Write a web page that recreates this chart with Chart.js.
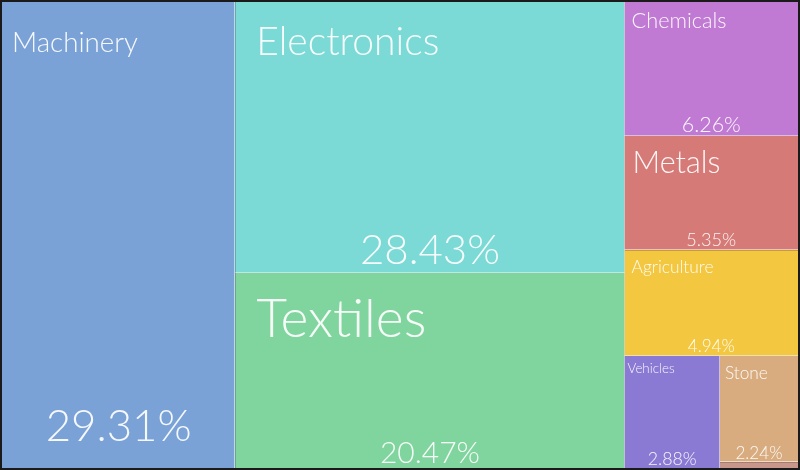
<!DOCTYPE html>
<html><head><meta charset="utf-8">
<script src="https://cdn.jsdelivr.net/npm/chart.js@4/dist/chart.umd.min.js"></script>
<style>
html,body{margin:0;padding:0;background:#1a1a1a;}
#wrap{position:absolute;left:0;top:0;width:800px;height:470px;}
canvas{display:block;}
</style></head><body>
<div id="wrap"><canvas id="c" width="800" height="470"></canvas></div>
<script>
// ---- data ----
const categories = ['Machinery','Electronics','Textiles','Chemicals','Metals','Agriculture','Vehicles','Stone','Other'];
const shares = [29.31, 28.43, 20.47, 6.26, 5.35, 4.94, 2.88, 2.24, 0.12];
const colors = ['#7AA2D6','#7BD9D6','#80D59E','#C07AD4','#D67A78','#F3C840','#8A7AD4','#D8AC7E','#C8968A'];

// ---- label styling (target text widths in px, offsets in px) ----
const labelStyle = {
  Machinery:   {nw:126, nx:10, ny:50, pw:146, pb:27},
  Electronics: {nw:183, nx:21, ny:53, pw:140, pb:9},
  Textiles:    {nw:170, nx:21, ny:64, pw:100, pb:5},
  Chemicals:   {nw:95,  nx:7,  ny:26, pw:59,  pb:4},
  Metals:      {nw:88,  nx:8,  ny:37, pw:50,  pb:4},
  Agriculture: {nw:82,  nx:7,  ny:23, pw:47,  pb:4},
  Vehicles:    {nw:47,  nx:3,  ny:17, pw:49,  pb:3},
  Stone:       {nw:43,  nx:5,  ny:23, pw:47,  pb:3}
};
const FONT = 'Lato, "Open Sans", sans-serif';
const W = 796, H = 466;

function squarify(vals, x, y, w, h) {
  const total = vals.reduce((a, b) => a + b, 0);
  const k = w * h / total;
  const areas = vals.map(v => v * k);
  const out = [];
  let i = 0;
  while (i < areas.length) {
    const s0 = Math.min(w, h);
    const worst = r => {
      const s = r.reduce((a, b) => a + b, 0);
      const mx = Math.max(...r), mn = Math.min(...r);
      return Math.max(s0 * s0 * mx / (s * s), (s * s) / (s0 * s0 * mn));
    };
    let row = [areas[i]], j = i + 1;
    while (j < areas.length && worst(row.concat(areas[j])) <= worst(row)) { row.push(areas[j]); j++; }
    const s = row.reduce((a, b) => a + b, 0);
    if (w >= h) {
      const cw = s / h; let cy = y;
      row.forEach(a => { const ch = a / cw; out.push({x, y: cy, w: cw, h: ch}); cy += ch; });
      x += cw; w -= cw;
    } else {
      const rh = s / w; let cx = x;
      row.forEach(a => { const rw = a / rh; out.push({x: cx, y, w: rw, h: rh}); cx += rw; });
      y += rh; h -= rh;
    }
    i = j;
  }
  return out;
}

const cells = squarify(shares, 0, 0, W, H);

const treemapPlugin = {
  id: 'treemap',
  beforeDatasetsDraw(chart) {
    const {ctx, scales: {x: xs, y: ys}} = chart;
    ctx.save();
    cells.forEach((c, i) => {
      const x0 = xs.getPixelForValue(c.x), x1 = xs.getPixelForValue(c.x + c.w);
      const y0 = ys.getPixelForValue(c.y), y1 = ys.getPixelForValue(c.y + c.h);
      ctx.fillStyle = colors[i];
      ctx.fillRect(x0, y0, x1 - x0, y1 - y0);
    });
    // interior borders
    ctx.strokeStyle = 'rgba(255,255,255,0.55)';
    ctx.lineWidth = 1;
    cells.forEach(c => {
      const x0 = xs.getPixelForValue(c.x), x1 = xs.getPixelForValue(c.x + c.w);
      const y0 = ys.getPixelForValue(c.y), y1 = ys.getPixelForValue(c.y + c.h);
      ctx.beginPath();
      if (c.x + c.w < W - 0.5) { const px = Math.round(x1) - 0.5; ctx.moveTo(px, y0); ctx.lineTo(px, y1); }
      if (c.y + c.h < H - 0.5) { const py = Math.round(y1) - 0.5; ctx.moveTo(x0, py); ctx.lineTo(x1, py); }
      ctx.stroke();
    });
    // labels
    ctx.fillStyle = 'rgba(255,255,255,0.93)';
    cells.forEach((c, i) => {
      const st = labelStyle[categories[i]];
      if (!st) return;
      const x0 = xs.getPixelForValue(c.x), x1 = xs.getPixelForValue(c.x + c.w);
      const y0 = ys.getPixelForValue(c.y), y1 = ys.getPixelForValue(c.y + c.h);
      const fit = (txt, target) => {
        ctx.font = '300 100px ' + FONT;
        return 100 * target / ctx.measureText(txt).width;
      };
      const name = categories[i];
      ctx.font = '300 ' + fit(name, st.nw).toFixed(2) + 'px ' + FONT;
      ctx.textAlign = 'left'; ctx.textBaseline = 'alphabetic';
      ctx.fillText(name, x0 + st.nx, y0 + st.ny);
      const pct = shares[i].toFixed(2) + '%';
      ctx.font = '300 ' + fit(pct, st.pw).toFixed(2) + 'px ' + FONT;
      ctx.textAlign = 'center';
      ctx.fillText(pct, (x0 + x1) / 2, y1 - st.pb);
    });
    ctx.restore();
  }
};

new Chart(document.getElementById('c'), {
  type: 'scatter',
  data: {
    datasets: [{
      label: 'Share',
      data: cells.map((c, i) => ({x: c.x + c.w / 2, y: c.y + c.h / 2, name: categories[i], v: shares[i]})),
      pointRadius: 0, pointHoverRadius: 0
    }]
  },
  options: {
    responsive: false,
    animation: false,
    layout: {padding: 2},
    scales: {
      x: {type: 'linear', min: 0, max: W, display: false},
      y: {type: 'linear', min: 0, max: H, reverse: true, display: false}
    },
    plugins: {
      legend: {display: false},
      tooltip: {callbacks: {label: c => c.raw.name + ': ' + c.raw.v.toFixed(2) + '%'}}
    }
  },
  plugins: [treemapPlugin]
});
</script>
</body></html>
